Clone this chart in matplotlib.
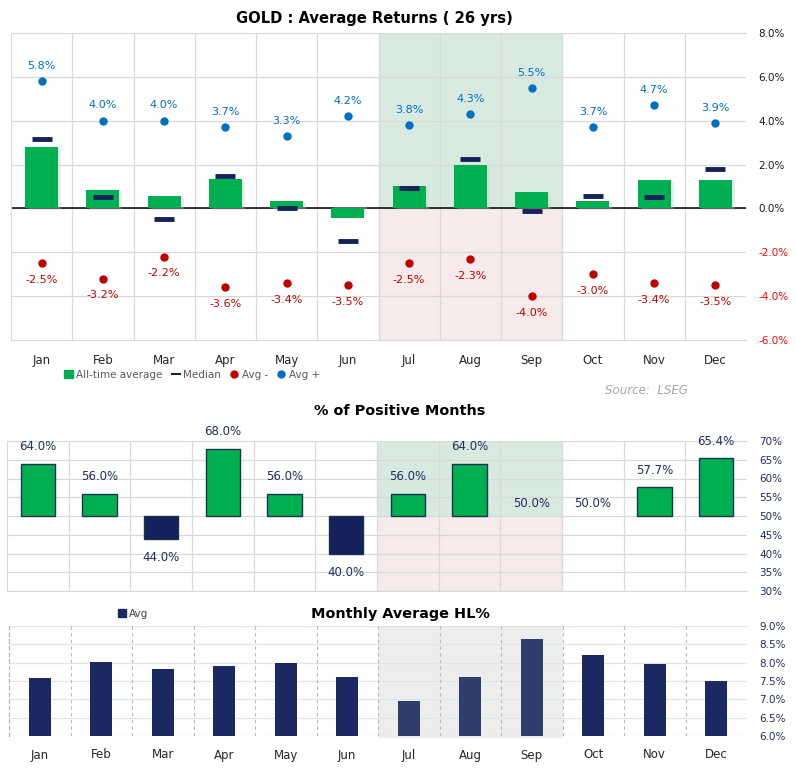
"""Gold seasonality dashboard: average returns, % positive months, average HL%."""

import matplotlib.pyplot as plt
from matplotlib.lines import Line2D
from matplotlib.patches import Patch, Rectangle
from matplotlib.ticker import FuncFormatter

months = ["Jan", "Feb", "Mar", "Apr", "May", "Jun",
          "Jul", "Aug", "Sep", "Oct", "Nov", "Dec"]

# top panel: returns in %
all_time_avg = [2.79, 0.83, 0.56, 1.33, 0.33, -0.43, 1.01, 1.97, 0.74, 0.33, 1.29, 1.29]
median = [3.16, 0.53, -0.49, 1.47, 0.03, -1.49, 0.92, 2.24, -0.11, 0.57, 0.53, 1.79]
avg_pos = [5.8, 4.0, 4.0, 3.7, 3.3, 4.2, 3.8, 4.3, 5.5, 3.7, 4.7, 3.9]
avg_neg = [-2.5, -3.2, -2.2, -3.6, -3.4, -3.5, -2.5, -2.3, -4.0, -3.0, -3.4, -3.5]

# middle panel: % of positive months
pct_positive = [64.0, 56.0, 44.0, 68.0, 56.0, 40.0, 56.0, 64.0, 50.0, 50.0, 57.7, 65.4]

# bottom panel: monthly average high-low range in %
avg_hl = [7.57, 8.03, 7.84, 7.92, 8.00, 7.60, 6.96, 7.62, 8.64, 8.20, 7.96, 7.51]

highlight = (6, 8)  # Jul..Sep

GREEN = "#00b050"
NAVY = "#14215a"
RED = "#c00000"
BLUE = "#0070c0"
GRID = "#d9d9d9"
LABEL_NAVY = "#1f2d5c"

plt.rcParams["font.family"] = ["DejaVu Sans"]

W, H = 796, 772
fig = plt.figure(figsize=(W / 100, H / 100), dpi=100)


def px_axes(left, top, right, bottom):
    return fig.add_axes([left / W, 1 - bottom / H, (right - left) / W, (bottom - top) / H])


def style_axes(ax, spine_color=GRID):
    for side in ("top", "bottom", "left"):
        ax.spines[side].set_color(spine_color)
    ax.spines["right"].set_visible(False)
    ax.yaxis.tick_right()
    ax.tick_params(axis="both", length=0)
    ax.set_xlim(-0.5, len(months) - 0.5)
    ax.set_xticks(range(len(months)))
    ax.set_xticks([i + 0.5 for i in range(len(months) - 1)], minor=True)
    ax.tick_params(axis="x", which="minor", length=0)


x = list(range(len(months)))
lo, hi = highlight

# ---------------- top panel ----------------
ax1 = px_axes(11, 33, 746, 340)
style_axes(ax1)
ax1.set_ylim(-6, 8)
ax1.set_yticks(range(-6, 9, 2))
ax1.yaxis.set_major_formatter(FuncFormatter(lambda v, _: f"{v:.1f}%"))
for lab, v in zip(ax1.get_yticklabels(), range(-6, 9, 2)):
    lab.set_color("#ff0000" if v < 0 else "#1a1a1a")
ax1.tick_params(axis="y", labelsize=7.5, pad=9)
ax1.set_xticklabels(months, fontsize=8.5, color="#262626")
ax1.tick_params(axis="x", pad=10)
ax1.grid(axis="y", color=GRID, lw=0.9)
ax1.grid(axis="x", which="minor", color=GRID, lw=0.9)
ax1.set_axisbelow(True)
ax1.add_patch(Rectangle((lo - 0.5, 0), hi - lo + 1, 8, color="#d8eadf", zorder=0, lw=0))
ax1.add_patch(Rectangle((lo - 0.5, -6), hi - lo + 1, 6, color="#f6eaea", zorder=0, lw=0))
ax1.axhline(0, color="black", lw=1.1, zorder=2)

# soft shadow then bars
ax1.bar([i + 0.05 for i in x], all_time_avg, width=0.54, color="#c8c8c8", alpha=0.35,
        zorder=2.5, bottom=[-0.08 if v > 0 else 0.08 for v in all_time_avg])
ax1.bar(x, all_time_avg, width=0.54, color=GREEN, zorder=3)
ax1.plot(x, median, ls="none", marker="_", ms=14, mew=3.5, color=NAVY, zorder=4)
ax1.plot(x, avg_pos, ls="none", marker="o", ms=5, color=BLUE, zorder=4)
ax1.plot(x, avg_neg, ls="none", marker="o", ms=5, color=RED, zorder=4)
for i in x:
    ax1.annotate(f"{avg_pos[i]:.1f}%", (i, avg_pos[i]), xytext=(0, 11), textcoords="offset points",
                 ha="center", va="center", fontsize=8, color=BLUE)
    ax1.annotate(f"{avg_neg[i]:.1f}%", (i, avg_neg[i]), xytext=(0, -12), textcoords="offset points",
                 ha="center", va="center", fontsize=8, color=RED)

fig.text(374 / W, 1 - 18 / H, "GOLD : Average Returns ( 26 yrs)", ha="center", va="center",
         fontsize=10.6, fontweight="bold")
handles = [
    Patch(color=GREEN, label="All-time average"),
    Line2D([], [], color=NAVY, lw=0, marker="_", ms=7, mew=1.5, label="Median"),
    Line2D([], [], color=RED, lw=0, marker="o", ms=5, label="Avg -"),
    Line2D([], [], color=BLUE, lw=0, marker="o", ms=5, label="Avg +"),
]
fig.legend(handles=handles, loc="center", bbox_to_anchor=(192 / W, 1 - 375 / H), ncol=4,
           frameon=False, fontsize=7.5, labelcolor="#595959", handlelength=0.8,
           handletextpad=0.3, columnspacing=0.9, handleheight=0.8)
fig.text(646 / W, 1 - 390 / H, "Source:  LSEG", ha="center", va="center", fontsize=8.5,
         style="italic", color="#a6a6a6")

# ---------------- middle panel ----------------
ax2 = px_axes(7, 441, 747, 591)
style_axes(ax2)
ax2.set_ylim(30, 70)
ax2.set_yticks(range(30, 71, 5))
ax2.yaxis.set_major_formatter(FuncFormatter(lambda v, _: f"{v:.0f}%"))
ax2.tick_params(axis="y", labelsize=7.5, labelcolor=LABEL_NAVY, pad=9)
ax2.set_xticklabels([])
ax2.grid(axis="y", color=GRID, lw=0.9)
ax2.grid(axis="x", which="minor", color=GRID, lw=0.9)
ax2.set_axisbelow(True)
ax2.add_patch(Rectangle((lo - 0.5, 50), hi - lo + 1, 20, color="#d8eadf", zorder=0, lw=0))
ax2.add_patch(Rectangle((lo - 0.5, 30), hi - lo + 1, 20, color="#f6eaea", zorder=0, lw=0))
heights = [v - 50 for v in pct_positive]
colors = [GREEN if h >= 0 else NAVY for h in heights]
edge_w = [1.0 if h != 0 else 0.0 for h in heights]
ax2.bar(x, heights, bottom=50, width=0.56, color=colors, edgecolor="#1c3350",
        linewidth=edge_w, zorder=3)
for i in x:
    v = pct_positive[i]
    if v > 50:
        off = 12
    elif v < 50:
        off = -14
    else:
        off = 9
    ax2.annotate(f"{v:.1f}%", (i, v), xytext=(0, off), textcoords="offset points",
                 ha="center", va="center", fontsize=8.5, color=LABEL_NAVY)
fig.text(400 / W, 1 - 411 / H, "% of Positive Months", ha="center", va="center",
         fontsize=10.4, fontweight="bold")

# ---------------- bottom panel ----------------
ax3 = px_axes(9, 626, 747, 736)
ax3.set_xlim(-0.5, len(months) - 0.5)
for side in ("top", "right", "bottom"):
    ax3.spines[side].set_visible(False)
ax3.spines["left"].set_color("#b0b0b0")
ax3.spines["left"].set_linestyle((0, (3, 3)))
ax3.yaxis.tick_right()
ax3.tick_params(axis="both", length=0)
ax3.set_ylim(6.0, 9.0)
ax3.set_yticks([6.0 + 0.5 * k for k in range(7)])
ax3.yaxis.set_major_formatter(FuncFormatter(lambda v, _: f"{v:.1f}%"))
ax3.tick_params(axis="y", labelsize=7.5, labelcolor=LABEL_NAVY, pad=9)
ax3.set_xticks(x)
ax3.set_xticklabels(months, fontsize=8.5, color="#262626")
ax3.tick_params(axis="x", pad=9)
ax3.grid(axis="y", color="#dfe6ea", lw=0.9)
for b in range(len(months) - 1):
    ax3.axvline(b + 0.5, color="#b8b8b8", lw=0.8, ls=(0, (3, 3)), zorder=1)
ax3.set_axisbelow(True)
ax3.add_patch(Rectangle((lo - 0.5, 5.95), hi - lo + 1, 3.05, color="#ededed", zorder=0.5,
                        lw=0, clip_on=False))
hl_colors = ["#303e6d" if lo <= i <= hi else "#1b2862" for i in x]
ax3.bar(x, [v - 6.0 for v in avg_hl], bottom=6.0, width=0.36, color=hl_colors, zorder=3)
fig.text(400 / W, 1 - 614 / H, "Monthly Average HL%", ha="center", va="center",
         fontsize=10.4, fontweight="bold")
fig.legend(handles=[Patch(color="#1b2862", label="Avg")], loc="center",
           bbox_to_anchor=(133 / W, 1 - 614 / H), frameon=False, fontsize=7.5,
           labelcolor="#404040", handlelength=0.8, handleheight=0.8, handletextpad=0.3)

fig.savefig("out.png", dpi=100)
